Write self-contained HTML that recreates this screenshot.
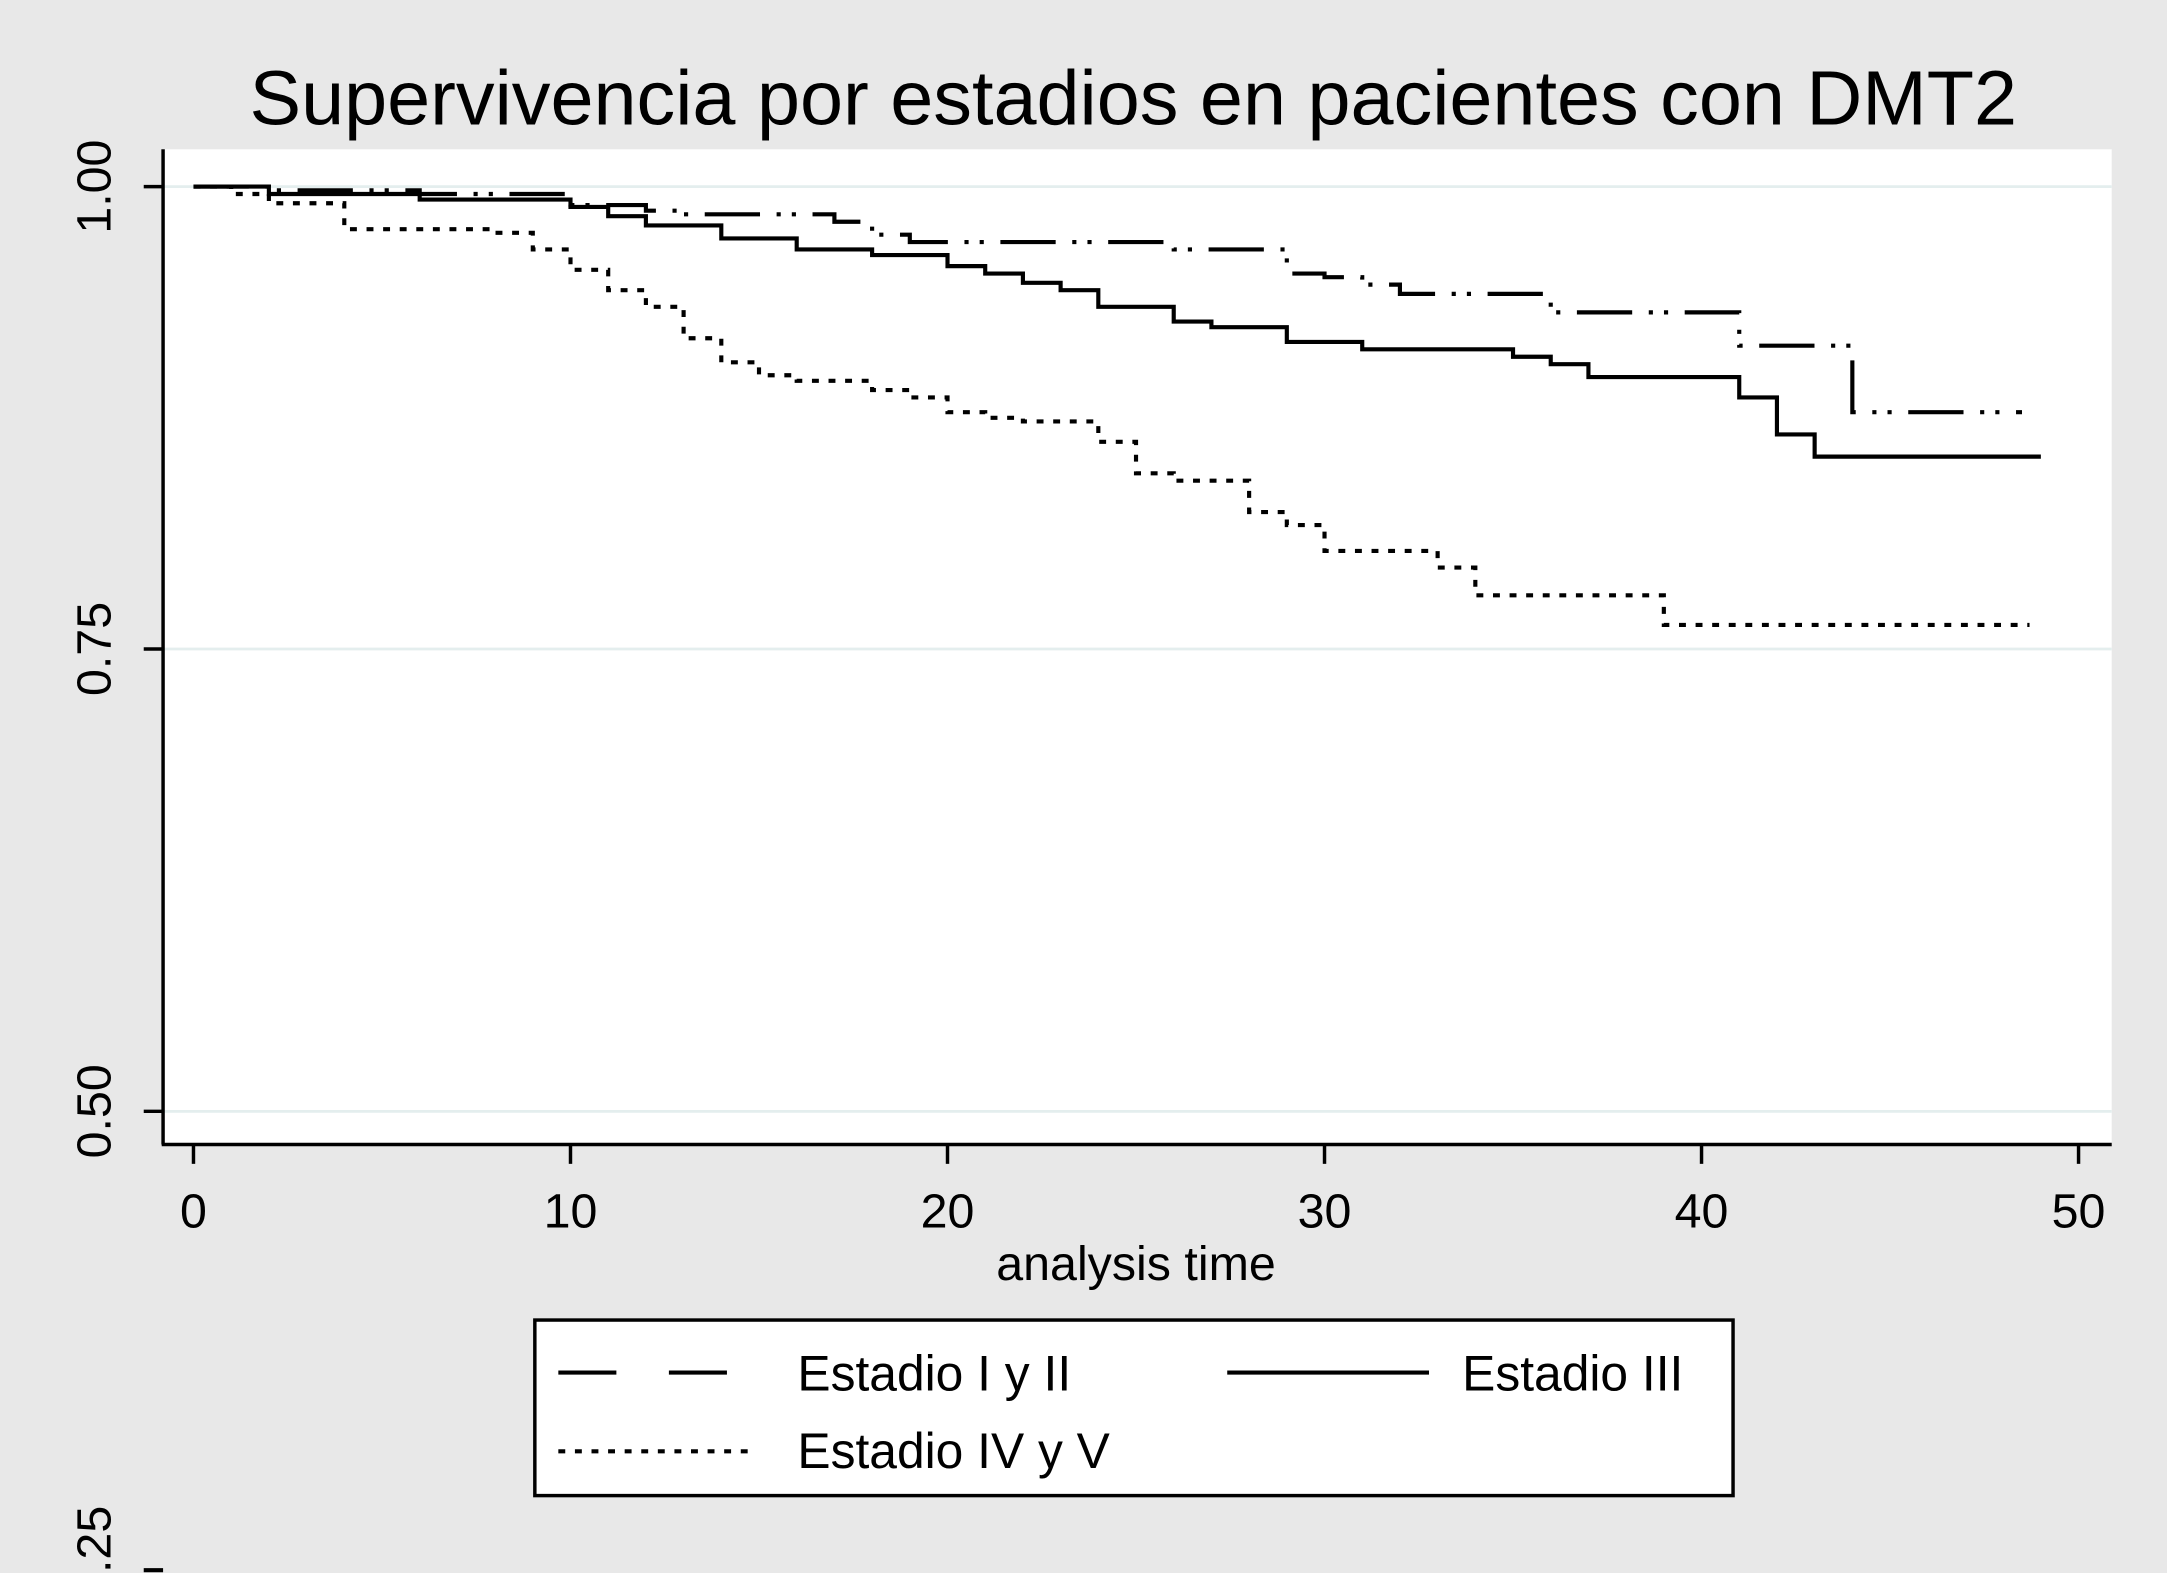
<!DOCTYPE html>
<html><head><meta charset="utf-8"><style>
html,body{margin:0;padding:0;background:#e8e8e8;}
svg{display:block;}
text{font-family:"Liberation Sans",Arial,sans-serif;fill:#000;}
</style></head><body>
<svg id="chart" width="2167" height="1573" viewBox="0 0 1568 1138" preserveAspectRatio="none" xmlns="http://www.w3.org/2000/svg">
<rect x="0" y="0" width="1568" height="1138" fill="#e8e8e8"/>
<rect x="118" y="108" width="1410" height="720" fill="#ffffff"/>
<text x="820" y="90" font-size="56" text-anchor="middle">Supervivencia por estadios en pacientes con DMT2</text>
<g id="grid"></g>
<g id="series"></g>
<line x1="118" y1="108" x2="118" y2="828" stroke="#000" stroke-width="2.5"/>
<line x1="117" y1="828" x2="1528" y2="828" stroke="#000" stroke-width="2.5"/>
<g id="axes"></g>
<text x="822" y="926" font-size="35" text-anchor="middle">analysis time</text>
<g>
<rect x="387" y="955" width="867" height="127" fill="#fff" stroke="#000" stroke-width="2.5"/>
<line x1="404" y1="993" x2="530" y2="993" stroke="#000" stroke-width="3" stroke-dasharray="42,38"/>
<text x="577" y="1006" font-size="36">Estadio I y II</text>
<line x1="888" y1="993" x2="1034" y2="993" stroke="#000" stroke-width="3"/>
<text x="1058" y="1006" font-size="36">Estadio III</text>
<line x1="404" y1="1050" x2="546" y2="1050" stroke="#000" stroke-width="3" stroke-dasharray="5,7"/>
<text x="577" y="1062" font-size="36">Estadio IV y V</text>
</g>
<text transform="translate(80,1138) rotate(-90)" font-size="35">.25</text>
<line x1="104" y1="1136" x2="118" y2="1136" stroke="#000" stroke-width="3"/>
</svg>
<script>
const xTicks = [0, 10, 20, 30, 40, 50];
const yTicks = [0.50, 0.75, 1.00];
const yTickLabels = ["0.50", "0.75", "1.00"];
const s1Times = [0, 2, 6, 10, 12, 13, 17, 18, 19, 26, 29, 30, 31, 32, 36, 41, 44, 48.5];
const s1Surv  = [1, 0.998, 0.996, 0.990, 0.987, 0.985, 0.981, 0.974, 0.970, 0.966, 0.953, 0.951, 0.947, 0.942, 0.932, 0.914, 0.878, 0.878];
const s2Times = [0, 2, 6, 10, 11, 12, 14, 16, 18, 20, 21, 22, 23, 24, 26, 27, 29, 31, 35, 36, 37, 41, 42, 43, 49];
const s2Surv  = [1, 0.996, 0.993, 0.989, 0.984, 0.979, 0.972, 0.966, 0.963, 0.957, 0.953, 0.948, 0.944, 0.935, 0.927, 0.924, 0.916, 0.912, 0.908, 0.904, 0.897, 0.886, 0.866, 0.854, 0.854];
const s3Times = [0, 1, 2, 4, 8, 9, 10, 11, 12, 13, 14, 15, 16, 18, 19, 20, 21, 22, 24, 25, 26, 28, 29, 30, 33, 34, 39, 48.7];
const s3Surv  = [1, 0.996, 0.991, 0.977, 0.975, 0.966, 0.955, 0.944, 0.935, 0.918, 0.905, 0.898, 0.895, 0.890, 0.886, 0.878, 0.875, 0.873, 0.862, 0.845, 0.841, 0.824, 0.817, 0.803, 0.794, 0.779, 0.763, 0.763];

const NS = "http://www.w3.org/2000/svg";
function xs(t){ return 140 + (t - 0) * (1504 - 140) / 50; }
function ys(v){ return 135 + (1 - v) * (804 - 135) / 0.5; }

const grid = document.getElementById('grid');
const axes = document.getElementById('axes');
const series = document.getElementById('series');

yTicks.forEach((v, i) => {
  const g = document.createElementNS(NS, 'line');
  g.setAttribute('x1', 118); g.setAttribute('x2', 1528);
  g.setAttribute('y1', ys(v)); g.setAttribute('y2', ys(v));
  g.setAttribute('stroke', '#e4eeee'); g.setAttribute('stroke-width', 2);
  
  
  grid.appendChild(g);
  const tk = document.createElementNS(NS, 'line');
  tk.setAttribute('x1', 104); tk.setAttribute('x2', 118);
  tk.setAttribute('y1', ys(v)); tk.setAttribute('y2', ys(v));
  tk.setAttribute('stroke', '#000'); tk.setAttribute('stroke-width', 2.5);
  
  
  axes.appendChild(tk);
  const tx = document.createElementNS(NS, 'text');
  tx.setAttribute('transform', 'translate(80,' + ys(v) + ') rotate(-90)');
  tx.setAttribute('text-anchor', 'middle');
  tx.setAttribute('font-size', 35);
  tx.textContent = yTickLabels[i];
  
  
  axes.appendChild(tx);
});
xTicks.forEach(t => {
  const tk = document.createElementNS(NS, 'line');
  tk.setAttribute('x1', xs(t)); tk.setAttribute('x2', xs(t));
  tk.setAttribute('y1', 828); tk.setAttribute('y2', 842);
  tk.setAttribute('stroke', '#000'); tk.setAttribute('stroke-width', 2.5);
  
  
  axes.appendChild(tk);
  const tx = document.createElementNS(NS, 'text');
  tx.setAttribute('x', xs(t)); tx.setAttribute('y', 888);
  tx.setAttribute('text-anchor', 'middle');
  tx.setAttribute('font-size', 35);
  tx.textContent = String(t);
  
  
  axes.appendChild(tx);
});

function stepPath(times, surv){
  let d = 'M' + xs(times[0]) + ' ' + ys(surv[0]);
  for (let i = 1; i < times.length; i++){
    d += ' H' + xs(times[i]) + ' V' + ys(surv[i]);
  }
  return d;
}
function addSeries(times, surv, dash){
  const p = document.createElementNS(NS, 'path');
  p.setAttribute('d', stepPath(times, surv));
  p.setAttribute('fill', 'none');
  p.setAttribute('stroke', '#000');
  p.setAttribute('stroke-width', 3);
  if (dash) p.setAttribute('stroke-dasharray', dash);
  series.appendChild(p);
  return p;
}
const p1 = addSeries(s1Times, s1Surv, '40,12,3,8,3,12');


const p2 = addSeries(s2Times, s2Surv, null);


const p3 = addSeries(s3Times, s3Surv, '5,7');


</script>
</body></html>
